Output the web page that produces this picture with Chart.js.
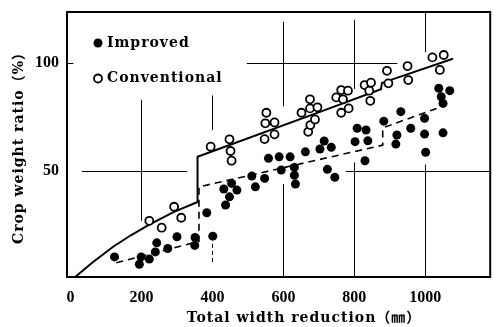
<!DOCTYPE html>
<html>
<head>
<meta charset="utf-8">
<script src="https://cdn.jsdelivr.net/npm/chart.js@4.4.0/dist/chart.umd.min.js"></script>
<style>
  html, body { margin: 0; padding: 0; background: #fff; }
  #wrap { width: 496px; height: 327px; }
</style>
</head>
<body>
<div id="wrap"><canvas id="cropWeightChart"></canvas></div>
<script>
// values
const improvedX = [124, 194, 199, 222, 239, 243, 274, 300, 350, 351, 384, 401, 432, 437, 448, 454, 469, 511, 521, 547,
  558, 588, 594, 619, 631, 631, 634, 662, 703, 715, 724, 735, 745, 802, 808, 830, 833, 838, 883, 917,
  920, 931, 959, 998, 998, 1001, 1038, 1045, 1050, 1050, 1069];
const improvedY = [10.3, 6.9, 10.3, 9.3, 12.6, 16.8, 14.2, 19.6, 15.6, 19.3, 30.7, 19.9, 41.7, 34.3, 38.1, 44.3, 41.2, 47.7, 42.7, 46.6,
  55.9, 56.6, 50.5, 56.6, 51.7, 48.1, 44.0, 58.9, 60.2, 63.9, 50.8, 61.0, 47.1, 63.6, 69.8, 54.8, 69.0, 64.0, 73.1, 62.5,
  66.7, 77.5, 69.8, 74.4, 67.1, 58.7, 88.3, 84.4, 81.3, 67.7, 87.2];

const conventionalX = [222, 257, 292, 312, 395, 448, 451, 454, 547, 549, 552, 575, 575, 651, 670, 675, 675, 676, 689, 696,
  749, 763, 763, 768, 782, 784, 829, 842, 845, 847, 892, 896, 950, 952, 1020, 1041, 1052];
const conventionalY = [27.0, 23.8, 33.5, 28.4, 61.3, 64.7, 59.3, 54.8, 64.8, 72.1, 77.0, 72.5, 67.0, 77.0, 68.2, 83.2, 79.0, 71.3, 73.9, 79.5,
  84.1, 87.5, 77.0, 83.2, 87.2, 79.0, 89.8, 87.2, 82.5, 90.9, 96.4, 90.6, 98.6, 92.1, 102.6, 96.8, 103.7];

// fitted lines as drawn in the figure (with their steps)
const conventionalFitX = [13, 60, 120, 170, 222, 290, 358, 358, 726, 875, 878, 1078];
const conventionalFitY = [1, 7.5, 15, 20.3, 25.2, 31, 35.7, 56.6, 78.8, 87.9, 90.8, 102];
const improvedFitX = [129, 362, 362, 880, 880, 1032];
const improvedFitY = [7.6, 17.5, 42.7, 62, 70, 79];

const xTicks = [0, 200, 400, 600, 800, 1000];
const yTicks = [50, 100];
const seriesNames = ['Improved', 'Conventional'];
const xTitle = 'Total width reduction（㎜）';
const yTitle = 'Crop weight ratio（%）';

// broken guide lines left in the original grid (data units)
const hGuides = [
  { y: 100, from: -10, to: 8 }, { y: 100, from: 497, to: 921 },
  { y: 50, from: 32, to: 329 }, { y: 50, from: 776, to: 1183 }
];
const vGuides = [
  { x: 200, from: 27, to: 83 }, { x: 400, from: 69, to: 85 }, { x: 400, from: 8, to: 17, dashed: true },
  { x: 600, from: 80, to: 119 }, { x: 600, from: 1, to: 44 },
  { x: 800, from: 88, to: 120 }, { x: 800, from: 1, to: 54 },
  { x: 1000, from: 105, to: 124 }, { x: 1000, from: 1, to: 53 }
];

const toPoints = (xs, ys) => xs.map((x, i) => ({ x: x, y: ys[i] }));

const textFamily = '"DejaVu Serif", "Noto Sans CJK JP", serif';
const tickFont = { family: '"Liberation Serif", serif', size: 16, weight: 'bold' };

const frameAndGuides = {
  id: 'frameAndGuides',
  beforeDatasetsDraw(chart) {
    const { ctx, chartArea, scales } = chart;
    ctx.save();
    ctx.strokeStyle = '#000';
    ctx.lineWidth = 1;
    hGuides.forEach(g => {
      const py = Math.round(scales.y.getPixelForValue(g.y)) + 0.5;
      ctx.beginPath();
      ctx.moveTo(scales.x.getPixelForValue(g.from), py);
      ctx.lineTo(scales.x.getPixelForValue(g.to), py);
      ctx.stroke();
    });
    vGuides.forEach(g => {
      const px = Math.round(scales.x.getPixelForValue(g.x)) + 0.5;
      ctx.setLineDash(g.dashed ? [4, 3] : []);
      ctx.beginPath();
      ctx.moveTo(px, scales.y.getPixelForValue(g.from));
      ctx.lineTo(px, scales.y.getPixelForValue(g.to));
      ctx.stroke();
    });
    ctx.setLineDash([]);
    ctx.lineWidth = 2;
    ctx.strokeRect(chartArea.left, chartArea.top, chartArea.right - chartArea.left, chartArea.bottom - chartArea.top);
    ctx.restore();
  }
};

const titlesAndLegend = {
  id: 'titlesAndLegend',
  afterDraw(chart) {
    const { ctx, chartArea } = chart;
    ctx.save();
    ctx.fillStyle = '#000';
    ctx.font = 'bold 14px ' + textFamily;
    ctx.letterSpacing = '1px';
    ctx.textBaseline = 'middle';

    // legend inside the plot, Improved first
    seriesNames.forEach((name, i) => {
      const ds = chart.data.datasets.find(d => d.label === name);
      const mx = chartArea.left + 31;
      const my = chartArea.top + 31 + i * 35.5;
      ctx.beginPath();
      ctx.arc(mx, my, ds.pointRadius, 0, Math.PI * 2);
      ctx.fillStyle = ds.pointBackgroundColor;
      ctx.fill();
      if (ds.pointBorderWidth > 0) {
        ctx.lineWidth = ds.pointBorderWidth;
        ctx.strokeStyle = '#000';
        ctx.stroke();
      }
      ctx.fillStyle = '#000';
      ctx.textAlign = 'left';
      ctx.fillText(ds.label, mx + 9, my);
    });

    // axis titles
    ctx.textAlign = 'center';
    ctx.fillText(xTitle, chartArea.left + 237, 318);
    ctx.translate(19, (chartArea.top + chartArea.bottom) / 2);
    ctx.rotate(-Math.PI / 2);
    ctx.fillText(yTitle, 0, 0);
    ctx.restore();
  }
};

new Chart(document.getElementById('cropWeightChart'), {
  type: 'scatter',
  data: {
    datasets: [
      {
        label: seriesNames[1],
        data: toPoints(conventionalX, conventionalY),
        pointRadius: 4,
        pointBorderWidth: 1.8,
        pointBackgroundColor: '#fff',
        pointBorderColor: '#000',
        order: 1
      },
      {
        label: seriesNames[0],
        data: toPoints(improvedX, improvedY),
        pointRadius: 4.5,
        pointBorderWidth: 0,
        pointBackgroundColor: '#000',
        pointBorderColor: '#000',
        order: 2
      },
      {
        label: seriesNames[1] + ' fit',
        data: toPoints(conventionalFitX, conventionalFitY),
        showLine: true,
        pointRadius: 0,
        borderColor: '#000',
        borderWidth: 2,
        tension: 0,
        order: 3
      },
      {
        label: seriesNames[0] + ' fit',
        data: toPoints(improvedFitX, improvedFitY),
        showLine: true,
        pointRadius: 0,
        borderColor: '#000',
        borderWidth: 1.6,
        borderDash: [7, 5],
        tension: 0,
        order: 4
      }
    ]
  },
  options: {
    responsive: true,
    maintainAspectRatio: false,
    animation: false,
    layout: { padding: { top: 12, right: 3, left: 0, bottom: 0 } },
    plugins: { legend: { display: false }, tooltip: { enabled: false } },
    scales: {
      x: {
        type: 'linear',
        min: -10,
        max: 1183,
        grid: { display: false, drawTicks: false },
        border: { display: false },
        afterBuildTicks: s => { s.ticks = xTicks.map(v => ({ value: v })); },
        afterFit: s => { s.height = 50; s.paddingLeft = 0; s.paddingRight = 0; },
        ticks: { color: '#000', font: tickFont, padding: 11, maxRotation: 0, autoSkip: false, callback: v => String(v) }
      },
      y: {
        type: 'linear',
        min: 1,
        max: 123.6,
        grid: { display: false, drawTicks: false },
        border: { display: false },
        afterBuildTicks: s => { s.ticks = yTicks.map(v => ({ value: v })); },
        afterFit: s => { s.width = 67; s.paddingTop = 0; s.paddingBottom = 0; },
        ticks: { color: '#000', font: tickFont, padding: 8, callback: v => String(v) }
      }
    }
  },
  plugins: [frameAndGuides, titlesAndLegend]
});
</script>
</body>
</html>
